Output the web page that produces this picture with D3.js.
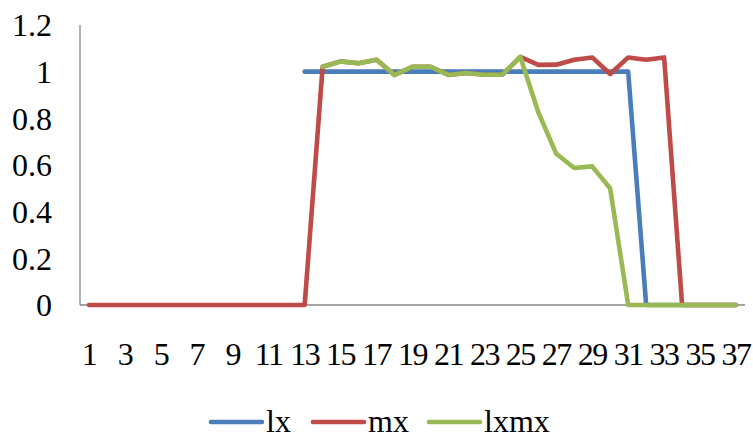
<!DOCTYPE html>
<html>
<head>
<meta charset="utf-8">
<script src="https://cdn.jsdelivr.net/npm/d3@7"></script>
<style>
  html, body { margin: 0; padding: 0; background: #fff; }
  svg text { font-family: "Liberation Serif", "Times New Roman", serif; fill: #000; }
</style>
</head>
<body>
<svg id="chart" width="753" height="439"></svg>
<script>
// Periods 1..37
const categories = d3.range(1, 38);
const tickLabels = categories.filter(d => d % 2 === 1);

// Series values (null = no value recorded)
const lx = [null, null, null, null, null, null, null, null, null, null, null, null,
  1, 1, 1, 1, 1, 1, 1, 1, 1, 1, 1, 1, 1, 1, 1, 1, 1, 1, 1,
  0, 0, 0, 0, 0, 0];
const mx = [0, 0, 0, 0, 0, 0, 0, 0, 0, 0, 0, 0, 0,
  1.021, 1.044, 1.036, 1.051, 0.986, 1.021, 1.021, 0.986, 0.994, 0.987, 0.987, 1.063,
  1.029, 1.03, 1.051, 1.061, 0.99, 1.061, 1.051, 1.061,
  0, 0, 0, 0];
const lxmx = [null, null, null, null, null, null, null, null, null, null, null, null, null,
  1.021, 1.044, 1.036, 1.051, 0.986, 1.021, 1.021, 0.986, 0.994, 0.987, 0.987, 1.063,
  0.826, 0.648, 0.587, 0.594, 0.499,
  0, 0, 0, 0, 0, 0, 0];
const yTicks = [0, 0.2, 0.4, 0.6, 0.8, 1, 1.2];

const seriesNames = ["lx", "mx", "lxmx"];
const seriesValues = [lx, mx, lxmx];
const colors = ["#4A7EBB", "#BE4B48", "#98B954"];

const svg = d3.select("#chart");
const plot = { left: 80, right: 745, top: 25, bottom: 305 };
const fontSize = 32;

const x = d3.scalePoint()
  .domain(categories)
  .range([plot.left, plot.right])
  .padding(0.5);
const y = d3.scaleLinear()
  .domain([0, 1.2])
  .range([plot.bottom, plot.top]);

const axisColor = "#868686";

// Y tick labels
svg.append("g").selectAll("text")
  .data(yTicks)
  .join("text")
  .attr("x", 52)
  .attr("y", d => y(d))
  .attr("dy", "0.35em")
  .attr("text-anchor", "end")
  .attr("font-size", fontSize)
  .text(d => d3.format("")(d));

// X tick labels
svg.append("g").selectAll("text")
  .data(tickLabels)
  .join("text")
  .attr("x", d => x(d))
  .attr("y", 365)
  .attr("text-anchor", "middle")
  .attr("font-size", fontSize)
  .attr("letter-spacing", -1.5)
  .text(d => d);

// Axis lines
svg.append("line")
  .attr("x1", plot.left).attr("x2", plot.left)
  .attr("y1", plot.top).attr("y2", plot.bottom)
  .attr("stroke", axisColor).attr("stroke-width", 1.3);
svg.append("line")
  .attr("x1", plot.left).attr("x2", plot.right)
  .attr("y1", plot.bottom).attr("y2", plot.bottom)
  .attr("stroke", axisColor).attr("stroke-width", 1.3);

// Series lines
const line = d3.line()
  .defined(d => d.v !== null)
  .x(d => x(d.c))
  .y(d => y(d.v));

seriesValues.forEach((vals, i) => {
  svg.append("path")
    .datum(categories.map((c, j) => ({ c, v: vals[j] })))
    .attr("fill", "none")
    .attr("stroke", colors[i])
    .attr("stroke-width", 4.6)
    .attr("stroke-linejoin", "round")
    .attr("stroke-linecap", "round")
    .attr("d", line);
});

// Legend
const legendX = [211, 313, 429];
const legend = svg.append("g");
seriesNames.forEach((name, i) => {
  legend.append("line")
    .attr("x1", legendX[i]).attr("x2", legendX[i] + 51)
    .attr("y1", 422).attr("y2", 422)
    .attr("stroke", colors[i]).attr("stroke-width", 4.6)
    .attr("stroke-linecap", "round");
  legend.append("text")
    .attr("x", legendX[i] + 55)
    .attr("y", 432)
    .attr("font-size", fontSize)
    .text(name);
});
</script>
</body>
</html>
